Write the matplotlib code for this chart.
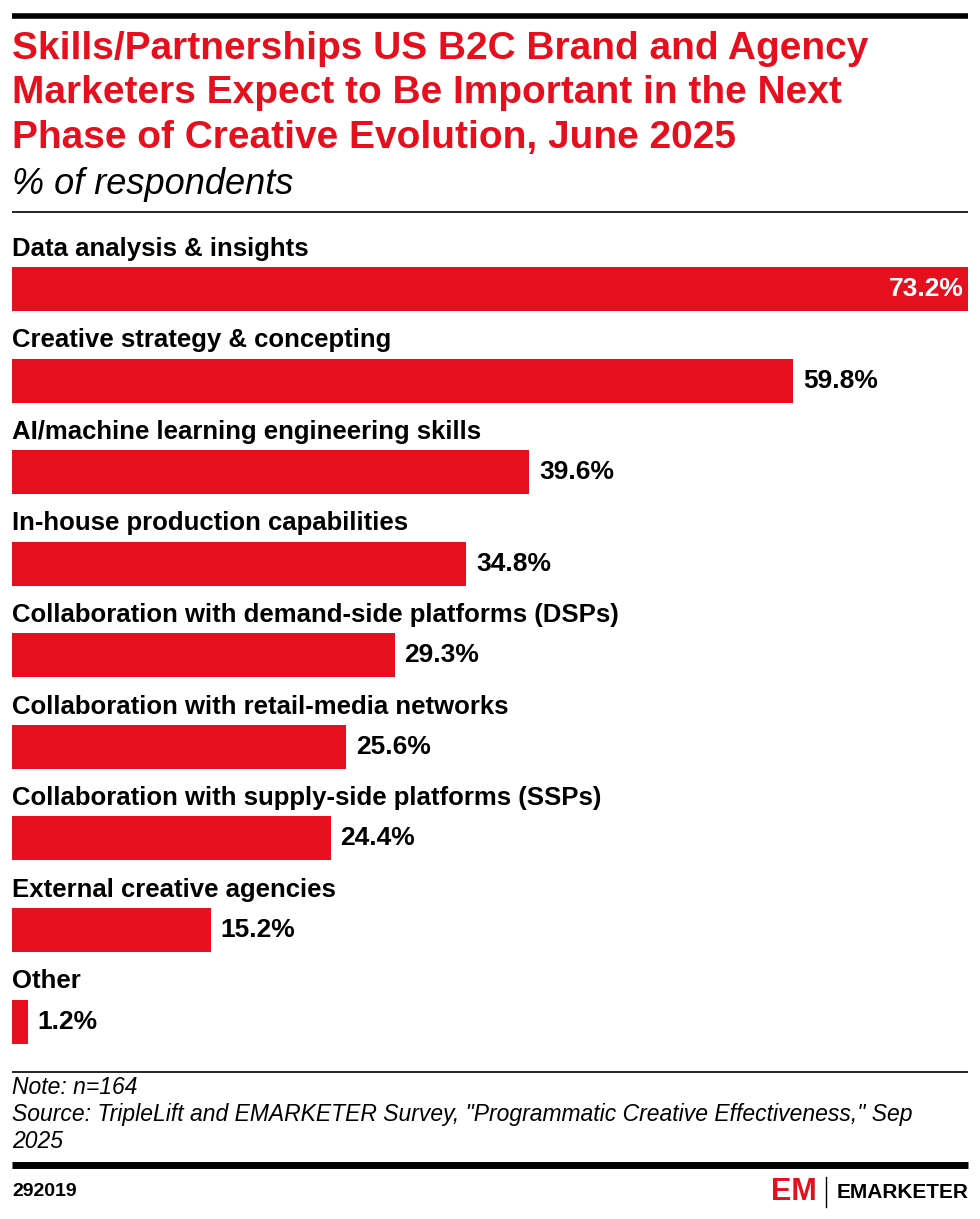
import matplotlib
matplotlib.use("Agg")
import matplotlib.pyplot as plt
from matplotlib.lines import Line2D

# data
categories = [
    "Data analysis & insights",
    "Creative strategy & concepting",
    "AI/machine learning engineering skills",
    "In-house production capabilities",
    "Collaboration with demand-side platforms (DSPs)",
    "Collaboration with retail-media networks",
    "Collaboration with supply-side platforms (SSPs)",
    "External creative agencies",
    "Other",
]
values = [73.2, 59.8, 39.6, 34.8, 29.3, 25.6, 24.4, 15.2, 1.2]

title = ("Skills/Partnerships US B2C Brand and Agency\n"
         "Marketers Expect to Be Important in the Next\n"
         "Phase of Creative Evolution, June 2025")
subtitle = "% of respondents"
note = "Note: n=164"
source = ('Source: TripleLift and EMARKETER Survey, "Programmatic Creative Effectiveness," Sep\n'
          "2025")
chart_id = "292019"

RED = "#E50F1E"
W, H = 980, 1219
plt.rcParams["font.family"] = ["Liberation Sans", "DejaVu Sans"]

fig = plt.figure(figsize=(W / 100, H / 100), dpi=100)


def fx(px):
    return px / W


def fy(py):
    return 1 - py / H


def hline(y, lw, x0=12, x1=968):
    fig.add_artist(Line2D([fx(x0), fx(x1)], [fy(y), fy(y)], color="black", lw=lw,
                          solid_capstyle="butt"))


# header
hline(15.5, 4.0)
fig.text(fx(12), fy(31), title, color=RED, fontsize=28, fontweight="bold",
         va="top", ha="left", linespacing=1.3)
fig.text(fx(12), fy(185), subtitle, fontsize=26, style="italic", va="center", ha="left")
hline(212, 1.2)

# bars
top_px, bot_px = 215.8, 1060
ax = fig.add_axes([fx(12), fy(bot_px), fx(968) - fx(12), (bot_px - top_px) / H])
ypos = list(range(len(categories)))
ax.barh(ypos, values, height=0.48, color=RED)
ax.set_xlim(0, max(values))
ax.set_ylim(8.42, -0.8)
ax.axis("off")

for i, (cat, v) in enumerate(zip(categories, values)):
    ax.text(0, i - 0.44, cat, fontsize=18.5, fontweight="bold", va="center", ha="left")
    if v == max(values):
        ax.text(v - 0.35, i, f"{v:.1f}%", fontsize=19, fontweight="bold", color="white",
                va="center", ha="right")
    else:
        ax.text(v + 0.75, i, f"{v:.1f}%", fontsize=19, fontweight="bold", color="black",
                va="center", ha="left")

# footer
hline(1072, 1.2)
fig.text(fx(12), fy(1088), note, fontsize=16.5, style="italic", va="center", ha="left")
fig.text(fx(12), fy(1103), source, fontsize=16.5, style="italic", va="top", ha="left",
         linespacing=1.2)
hline(1164.5, 5.0)
fig.text(fx(12), fy(1192), chart_id, fontsize=14, fontweight="bold", va="center", ha="left")

# logo
fig.text(fx(771), fy(1192), "EM", color=RED, fontsize=22, fontweight="bold",
         va="center", ha="left")
fig.add_artist(Line2D([fx(826), fx(826)], [fy(1177), fy(1207)], color="black", lw=1))
fig.text(fx(968), fy(1192), "EMARKETER", fontsize=15, fontweight="bold",
         va="center", ha="right")

fig.savefig("out.png", dpi=100)
